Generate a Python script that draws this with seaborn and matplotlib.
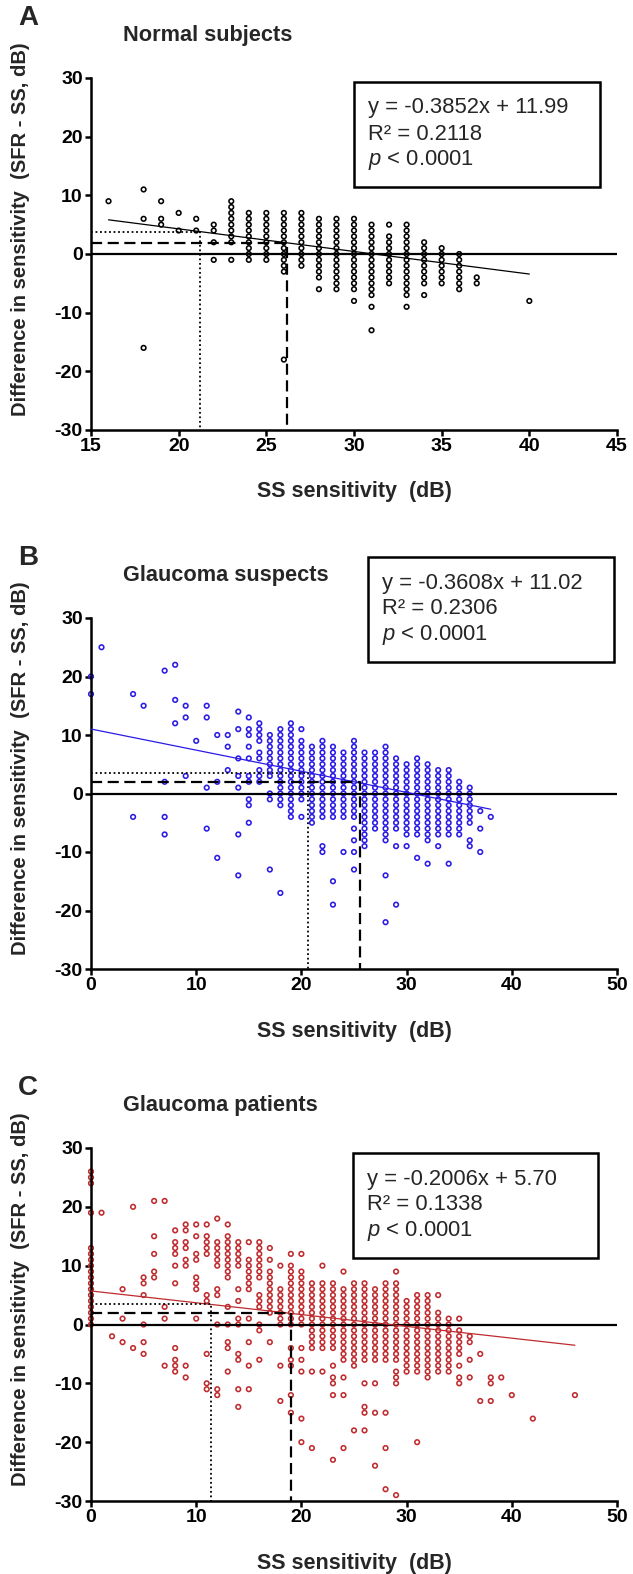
import numpy as np
import pandas as pd
import matplotlib
matplotlib.use("Agg")
import matplotlib.pyplot as plt
from matplotlib.patches import Rectangle
import seaborn as sns

# ---------------- data ----------------
# columns of stacked points: every integer dB value between lo and hi at that x
# Panel A: normal subjects
a_stack_x = [23, 24, 25, 26, 27, 28, 29, 30, 31, 32, 33, 34, 35, 36]
a_stack_lo = [2, -1, -1, -3, -2, -4, -6, -6, -7, -5, -7, -5, -5, -6]
a_stack_hi = [9, 7, 7, 7, 7, 6, 6, 6, 5, 3, 5, 2, 1, 0]
a_single_x = [16, 18, 18, 18, 19, 19, 19, 20, 20, 21, 21, 22, 22, 22, 22, 23,
              26, 28, 30, 31, 31, 32, 33, 34, 37, 37, 40]
a_single_y = [9, 11, 6, -16, 9, 6, 5, 7, 4, 6, 4, 5, 4, 2, -1, -1,
              -18, -6, -8, -9, -13, 5, -9, -7, -4, -5, -8]

# Panel B: glaucoma suspects
b_stack_x = [16, 16, 17, 18, 19, 20, 21, 22, 23, 24, 25, 26, 27, 28, 29, 30,
             31, 32, 33, 34, 35, 36]
b_stack_lo = [9, 2, 3, -2, -4, -1, -5, -4, -4, -4, -4, -9, -6, -8, -6, -7,
              -7, -8, -7, -7, -7, -5]
b_stack_hi = [12, 4, 10, 11, 12, 9, 8, 9, 8, 7, 9, 7, 7, 8, 6, 5,
              6, 5, 4, 4, 2, 1]
b_single_x = [0, 0, 1, 4, 4, 5, 7, 7, 7, 7, 8, 8, 8, 9, 9, 9, 10,
              11, 11, 11, 11, 12, 12, 12, 13, 13, 13,
              14, 14, 14, 14, 14, 14, 14,
              15, 15, 15, 15, 15, 15, 15, 15, 15, 15,
              16, 16, 17, 17, 17, 18, 20, 20, 22, 22, 23, 23, 24,
              25, 25, 25, 25, 28, 28, 29, 29, 30, 31, 32, 33, 34,
              36, 36, 37, 37, 37, 38]
b_single_y = [20, 17, 25, 17, -4, 15, 21, 2, -4, -7, 22, 16, 12, 15, 13, 3, 9,
              15, 13, 1, -6, 10, 2, -11, 10, 8, 4,
              14, 11, 6, 3, 1, -7, -14,
              13, 11, 10, 8, 6, 3, 2, -1, -2, -5,
              7, 6, 0, -1, -13, -17, 11, -4, -9, -10, -15, -19, -10,
              -6, -8, -10, -13, -14, -22, -9, -19, -9, -11, -12, -9, -12,
              -8, -9, -3, -6, -10, -4]

# Panel C: glaucoma patients
c_stack_x = [0, 8, 11, 12, 13, 14, 15, 16, 16, 17, 18, 19, 20, 21, 22, 23,
             24, 25, 26, 27, 28, 29, 30, 31, 32, 33, 34, 35]
c_stack_lo = [0, 12, 12, 10, 8, 10, 6, 8, 3, 2, 0, 0, 0, -4, -4, -4,
              -6, -7, -6, -6, -6, -6, -8, -8, -9, -8, -8, -5]
c_stack_hi = [13, 14, 15, 14, 15, 14, 11, 14, 5, 9, 6, 10, 9, 7, 7, 7,
              6, 7, 7, 6, 7, 7, 4, 5, 5, 2, 1, -1]
c_single_x = [0, 0, 0, 0, 1, 2, 3, 3, 3, 4, 4, 5, 5, 5, 5, 5, 5,
              6, 6, 6, 6, 6, 7, 7, 7, 7, 8, 8, 8, 8, 8, 8, 8,
              9, 9, 9, 9, 9, 9, 9, 9, 10, 10, 10, 10, 10, 10, 10, 10,
              11, 11, 11, 11, 11, 11, 12, 12, 12, 12, 12, 12,
              13, 13, 13, 13, 13, 13, 14, 14, 14, 14, 14, 14, 14, 14,
              15, 15, 15, 15, 15, 16, 16, 16, 17, 17, 17, 18, 18, 18,
              19, 19, 19, 19, 19, 19, 20, 20, 20, 20, 20, 20, 21, 21, 22, 22,
              23, 23, 23, 23, 23, 24, 24, 24, 24, 25, 26, 26, 26, 26,
              27, 27, 27, 28, 28, 28, 29, 29, 29, 29, 29, 31, 33,
              35, 35, 35, 35, 36, 36, 36, 36, 37, 37, 38, 38, 38, 39, 40, 42, 46]
c_single_y = [19, 24, 25, 26, 19, -2, 6, 1, -3, 20, -4, 8, 7, 5, 0, -3, -5,
              21, 15, 12, 9, 8, 21, 3, 1, -7, 16, 10, 7, -4, -6, -7, -8,
              17, 16, 14, 13, 11, 10, -7, -9, 17, 15, 12, 11, 8, 7, 6, 1,
              17, 5, 4, -5, -10, -11, 18, 6, 5, 0, -11, -12,
              17, 3, 0, -3, -4, -8, 6, 4, 1, 0, -5, -6, -11, -14,
              14, 1, -3, -7, -11, 0, -1, -6, 13, 11, -3, 10, -7, -13,
              12, -4, -6, -7, -12, -15, 12, -4, -6, -8, -16, -20, -8, -21, 10, -8,
              -7, -9, -10, -12, -23, 9, -9, -12, -21, -18, -10, -14, -15, -18,
              -10, -15, -24, -15, -21, -28, 9, -8, -9, -10, -29, -20, 5,
              1, -7, -9, -10, -2, -3, -6, -9, -5, -13, -9, -10, -13, -9, -12, -16, -12]

# linear fits and the two threshold readings (dotted / dashed)
fit_slope = [-0.3852, -0.3608, -0.2006]
fit_icpt = [11.99, 11.02, 5.70]
fit_r2 = ["0.2118", "0.2306", "0.1338"]
fit_xmin = [16, 0, 0]
fit_xmax = [40, 38, 46]
dotted_x = [21.2, 20.6, 11.4]
dotted_y = [3.8, 3.5, 3.5]
dashed_x = [26.2, 25.6, 19.0]
dashed_y = [1.8, 1.9, 1.9]

letters = ["A", "B", "C"]
titles = ["Normal subjects", "Glaucoma suspects", "Glaucoma patients"]
colors = ["black", "#2b1be6", "#bf2b2e"]
x_limits = [(15, 45), (0, 50), (0, 50)]
x_steps = [5, 10, 10]


def expand(stack_x, stack_lo, stack_hi, single_x, single_y):
    xs, ys = [], []
    for x, lo, hi in zip(stack_x, stack_lo, stack_hi):
        for y in range(lo, hi + 1):
            xs.append(x)
            ys.append(y)
    xs += single_x
    ys += single_y
    return pd.DataFrame({"x": xs, "y": ys})


panels = [
    expand(a_stack_x, a_stack_lo, a_stack_hi, a_single_x, a_single_y),
    expand(b_stack_x, b_stack_lo, b_stack_hi, b_single_x, b_single_y),
    expand(c_stack_x, c_stack_lo, c_stack_hi, c_single_x, c_single_y),
]

# ---------------- style ----------------
sns.set_theme(style="ticks")
plt.rcParams["font.family"] = ["Liberation Sans", "DejaVu Sans"]
plt.rcParams["axes.unicode_minus"] = False
plt.rcParams["mathtext.fontset"] = "custom"
plt.rcParams["mathtext.rm"] = "Liberation Sans"
plt.rcParams["mathtext.it"] = "Liberation Sans:italic"

W, H = 633, 1574
fig = plt.figure(figsize=(W / 100, H / 100), dpi=100)


def fx(px):
    return px / W


def fy(py):
    return 1 - py / H


# axes boxes in pixels: left, top, right, bottom
axes_px = [(91, 78, 617, 430), (91, 618, 617, 969), (91, 1148, 617, 1501)]
boxes_px = [(354, 82, 600, 187), (368, 557, 614, 662), (353, 1153, 598, 1258)]

for i, df in enumerate(panels):
    l, t, r, b = axes_px[i]
    ax = fig.add_axes([fx(l), fy(b), fx(r - l), (b - t) / H])
    col = colors[i]

    sns.scatterplot(data=df, x="x", y="y", ax=ax, marker="o", s=11,
                    facecolor="none", edgecolor=col, linewidth=1.15,
                    clip_on=False, legend=False, zorder=2)

    # regression line
    xx = np.array([fit_xmin[i], fit_xmax[i]])
    sns.lineplot(x=xx, y=fit_slope[i] * xx + fit_icpt[i], ax=ax,
                 color=col, linewidth=0.9, zorder=4)

    x0, x1 = x_limits[i]
    ax.axhline(0, color="black", linewidth=1.6, zorder=3)
    ax.plot([x0, dotted_x[i], dotted_x[i]], [dotted_y[i], dotted_y[i], -30],
            color="black", linestyle=(0, (1, 1.5)), linewidth=1.3, zorder=5)
    ax.plot([x0, dashed_x[i], dashed_x[i]], [dashed_y[i], dashed_y[i], -30],
            color="black", linestyle=(0, (5, 2.5)), linewidth=1.6, zorder=5)

    ax.set_xlim(x0, x1)
    ax.set_ylim(-30, 30)
    ax.set_xticks(np.arange(x0, x1 + 1, x_steps[i]))
    ax.set_yticks(np.arange(-30, 31, 10))
    ax.set_xlabel("")
    ax.set_ylabel("")
    sns.despine(ax=ax)
    for s in ["left", "bottom"]:
        ax.spines[s].set_linewidth(1.8)
        ax.spines[s].set_color("black")
    ax.tick_params(direction="out", length=4.5, width=1.8, color="black",
                   pad=1.5, labelsize=14)
    for lab in ax.get_xticklabels() + ax.get_yticklabels():
        lab.set_fontweight("bold")
        lab.set_color("black")

    # panel letter, title, axis labels
    fig.text(fx(28), fy(t - 60), letters[i], fontsize=20, fontweight="bold",
             ha="center", va="center")
    fig.text(fx(123), fy(t - 42), titles[i], fontsize=15.7, fontweight="bold",
             ha="left", va="center")
    fig.text(fx((l + r) / 2), fy(b + 62), "SS sensitivity  (dB)", fontsize=15.5,
             fontweight="bold", ha="center", va="center")
    fig.text(fx(21), fy((t + b) / 2 - 25),
             "Difference in sensitivity  (SFR - SS, dB)", fontsize=14.5,
             fontweight="bold", ha="center", va="center", rotation=90)

    # equation box
    bl, bt, br, bb = boxes_px[i]
    fig.patches.append(Rectangle((fx(bl), fy(bb)), fx(br - bl), (bb - bt) / H,
                                 transform=fig.transFigure, fill=False,
                                 edgecolor="black", linewidth=1.8))
    eq = f"y = {fit_slope[i]:.4f}x + {fit_icpt[i]:.2f}"
    lines = [eq, "R\u00b2 = " + fit_r2[i], r"$\it{p}$ < 0.0001"]
    for k, txt in enumerate(lines):
        fig.text(fx(bl + 14), fy(bt + 26 + 26 * k), txt, fontsize=15.8,
                 ha="left", va="center")

fig.savefig("out.png", dpi=100)
